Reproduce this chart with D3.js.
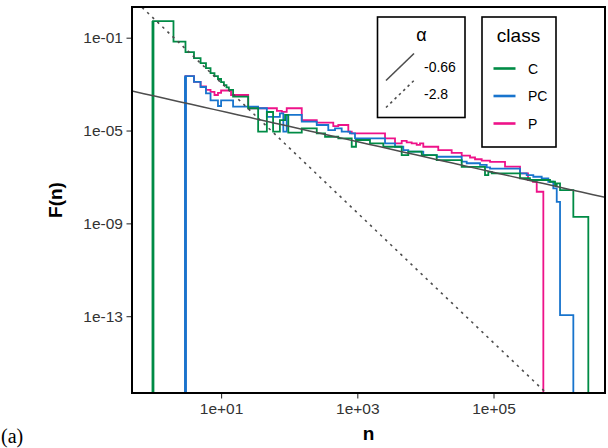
<!DOCTYPE html>
<html>
<head>
<meta charset="utf-8">
<script src="https://cdn.jsdelivr.net/npm/d3@7"></script>
<style>
  html, body { margin: 0; padding: 0; background: #fff; }
  svg text { font-family: "Liberation Sans", Arial, Helvetica, sans-serif; }
</style>
</head>
<body>
<svg id="chart" width="608" height="448"></svg>
<script>
// Size distribution F(n) per class, step curves on log-log axes
const classes = ["C", "PC", "P"];
const classColors = ["#008B45", "#1874CD", "#EE1289"];

// Class C
const nC = [1, 2, 3, 4, 5, 6, 7, 8, 9, 10, 11, 12, 13, 15, 25, 35, 47, 58, 73, 87, 97,
  153, 254, 336, 526, 828, 957, 1535, 2409, 4487, 5610, 8830, 14660, 34130, 75000, 83900,
  94200, 245000, 343000, 676000, 800000, 848000, 948000, 1486000];
const fC = [5.2e-1, 6.8e-2, 2.4e-2, 1.33e-2, 8.1e-3, 4.9e-3, 3.0e-3, 2.2e-3, 1.66e-3, 1.23e-3,
  9.1e-4, 7.2e-4, 5.6e-4, 2.9e-4, 9.1e-5, 8.9e-6, 6.3e-5, 8.9e-6, 2.8e-5, 4.7e-5, 8.1e-6,
  1.23e-5, 7.6e-6, 5.4e-6, 4.6e-6, 2.0e-6, 3.9e-6, 2.8e-6, 2.0e-6, 8.7e-7, 1.23e-6, 8.7e-7,
  5.3e-7, 2.7e-7, 1.2e-7, 1.66e-7, 1.43e-7, 8.8e-8, 7.4e-8, 6.2e-8, 4.5e-8, 5.3e-8, 2.7e-8, 1.9e-9];

// Class PC
const nPC = [3, 4, 5, 6, 7, 9, 10, 15, 35, 47, 73, 82, 92, 153, 254, 375, 471, 590, 781, 925,
  2553, 3580, 4735, 5610, 9310, 14660, 34130, 40400, 63400, 79400, 88900, 245000, 307000,
  384000, 510000, 638000, 755000, 848000, 948000];
const fPC = [2.2e-3, 1.26e-3, 7.5e-4, 4.0e-4, 2.0e-4, 1.14e-4, 2.0e-4, 1.07e-4, 9.1e-5, 3.9e-5,
  5.5e-5, 8.9e-6, 4.7e-5, 2.4e-5, 1.73e-5, 1.05e-5, 1.23e-5, 8.9e-6, 7.6e-6, 4.6e-6, 2.8e-6,
  2.0e-6, 1.44e-6, 1.23e-6, 8.7e-7, 7.4e-7, 4.6e-7, 3.9e-7, 3.3e-7, 2.6e-7, 2.3e-7, 1.43e-7,
  1.2e-7, 1.02e-7, 8.7e-8, 6.2e-8, 3.2e-8, 8.5e-9, 1.12e-13];

// Class P
const nP = [3, 4, 5, 6, 7, 8, 9, 10, 14, 25, 66, 78, 92, 153, 254, 444, 526, 738, 828, 2553,
  3580, 4487, 5310, 6290, 7450, 8330, 9310, 15450, 24300, 34130, 45200, 53500, 67100, 88900,
  147600, 245000, 321000, 380000, 431000];
const fP = [2.2e-3, 1.26e-3, 7.9e-4, 5.6e-4, 4.6e-4, 3.4e-4, 4.2e-4, 5.3e-4, 3.4e-4, 9.1e-5,
  7.1e-5, 6.4e-5, 9.1e-5, 2.8e-5, 2.2e-5, 1.55e-5, 1.73e-5, 8.9e-6, 7.6e-6, 4.6e-6, 2.8e-6,
  3.6e-6, 3.1e-6, 2.8e-6, 2.4e-6, 2.8e-6, 2.0e-6, 1.44e-6, 1.10e-6, 8.3e-7, 6.9e-7, 5.8e-7,
  5.0e-7, 4.5e-7, 2.8e-7, 1.43e-7, 7.4e-8, 6.2e-8, 2.3e-8];

// largest observed n per class (the curve drops to zero just after)
const nMax = [2466000, 1486000, 539000];

// fitted power laws F(n) = A * n^alpha
const alphaLabels = ["-0.66", "-2.8"];
const alphas = [-0.66, -2.8];
const fitA = [3.16e-4, 0.72];

const xTicks = [1e1, 1e3, 1e5];
const yTicks = [1e-1, 1e-5, 1e-9, 1e-13];

// ---------------------------------------------------------------
const svg = d3.select("#chart");
const panel = { left: 132, top: 7, right: 605, bottom: 393 };

const x = d3.scaleLog().domain([Math.pow(10, -0.308), Math.pow(10, 6.637)])
  .range([panel.left, panel.right]);
const y = d3.scaleLog().domain([Math.pow(10, -16.31), Math.pow(10, 0.323)])
  .range([panel.bottom, panel.top]);

const expFmt = v => {
  const e = Math.round(Math.log10(v));
  const a = Math.abs(e);
  return "1e" + (e < 0 ? "-" : "+") + (a < 10 ? "0" + a : "" + a);
};

svg.append("rect").attr("width", 608).attr("height", 448).attr("fill", "#fff");

svg.append("defs").append("clipPath").attr("id", "clip")
  .append("rect")
  .attr("x", panel.left).attr("y", panel.top)
  .attr("width", panel.right - panel.left).attr("height", panel.bottom - panel.top);

const plot = svg.append("g").attr("clip-path", "url(#clip)");

const floorF = y.domain()[0] / 100;
const series = [
  { n: nC, f: fC },
  { n: nPC, f: fPC },
  { n: nP, f: fP }
];

const stepLine = d3.line().x(d => x(d[0])).y(d => y(d[1])).curve(d3.curveStepAfter);

// draw P first, then PC, then C
[2, 1, 0].forEach(i => {
  const s = series[i];
  const pts = [[s.n[0], floorF]];
  s.n.forEach((v, j) => pts.push([v, s.f[j]]));
  pts.push([nMax[i], s.f[s.f.length - 1]]);
  pts.push([nMax[i], floorF]);
  plot.append("path")
    .attr("d", stepLine(pts))
    .attr("fill", "none")
    .attr("stroke", classColors[i])
    .attr("stroke-width", 1.8)
    .attr("stroke-linejoin", "miter");
});

// heavier rises at the smallest sizes
[0, 1].forEach(i => {
  const s = series[i];
  plot.append("line")
    .attr("x1", x(s.n[0])).attr("x2", x(s.n[0]))
    .attr("y1", y(floorF)).attr("y2", y(s.f[0]))
    .attr("stroke", classColors[i]).attr("stroke-width", 2.8);
});

// fitted power laws
const fitLine = d3.line().x(d => x(d[0])).y(d => y(d[1]));
const nRange = x.domain();
[0, 1].forEach(k => {
  const pts = d3.range(0, 41).map(t => {
    const n = Math.pow(10, Math.log10(nRange[0]) + t / 40 * (Math.log10(nRange[1]) - Math.log10(nRange[0])));
    return [n, fitA[k] * Math.pow(n, alphas[k])];
  });
  plot.append("path")
    .attr("d", fitLine(pts))
    .attr("fill", "none")
    .attr("stroke", "#4d4d4d")
    .attr("stroke-width", k === 1 ? 1.6 : 1.5)
    .attr("stroke-dasharray", k === 1 ? "2.5,4.5" : null);
});

// panel border
svg.append("rect")
  .attr("x", panel.left).attr("y", panel.top)
  .attr("width", panel.right - panel.left).attr("height", panel.bottom - panel.top)
  .attr("fill", "none").attr("stroke", "#000").attr("stroke-width", 2);

// axes
const yAxis = svg.append("g").attr("transform", `translate(${panel.left - 1},0)`)
  .call(d3.axisLeft(y).tickValues(yTicks).tickFormat(expFmt).tickSize(4.5).tickPadding(3.5));
const xAxis = svg.append("g").attr("transform", `translate(0,${panel.bottom + 1})`)
  .call(d3.axisBottom(x).tickValues(xTicks).tickFormat(expFmt).tickSize(4.5).tickPadding(4));
[yAxis, xAxis].forEach(g => {
  g.select(".domain").remove();
  g.selectAll(".tick line").attr("stroke", "#333").attr("stroke-width", 1.1);
  g.selectAll(".tick text").attr("fill", "#333")
    .style("font-size", "15.5px").style("font-family", "Liberation Sans, Arial, sans-serif");
});

svg.append("text")
  .attr("x", (panel.left + panel.right) / 2).attr("y", 440)
  .attr("text-anchor", "middle").attr("font-weight", "bold").attr("font-size", 19)
  .text("n");
svg.append("text")
  .attr("transform", `translate(62,${(panel.top + panel.bottom) / 2}) rotate(-90)`)
  .attr("text-anchor", "middle").attr("font-weight", "bold").attr("font-size", 19)
  .text("F(n)");

// panel tag
svg.append("text")
  .attr("x", 1).attr("y", 443)
  .attr("font-size", 20)
  .style("font-family", "'Liberation Serif', 'DejaVu Serif', serif")
  .text("(a)");

// legend: fitted exponent
const lgA = svg.append("g");
lgA.append("rect").attr("x", 377.5).attr("y", 17).attr("width", 87.5).attr("height", 100.5)
  .attr("fill", "#fff").attr("stroke", "#000").attr("stroke-width", 1.6);
lgA.append("text").attr("x", 421.5).attr("y", 41).attr("text-anchor", "middle")
  .attr("font-size", 18).text("α");
alphaLabels.forEach((lab, k) => {
  const cy = 67 + k * 27;
  lgA.append("line")
    .attr("x1", 386).attr("y1", cy + 13.5).attr("x2", 414).attr("y2", cy - 13.5)
    .attr("stroke", "#4d4d4d").attr("stroke-width", 1.6)
    .attr("stroke-dasharray", k === 1 ? "2.5,3.5" : null);
  lgA.append("text").attr("x", 424).attr("y", cy + 5).attr("font-size", 14).text(lab);
});

// legend: class
const lgC = svg.append("g");
lgC.append("rect").attr("x", 482).attr("y", 17).attr("width", 74).attr("height", 130)
  .attr("fill", "#fff").attr("stroke", "#000").attr("stroke-width", 1.6);
lgC.append("text").attr("x", 518.5).attr("y", 42).attr("text-anchor", "middle")
  .attr("font-size", 19).text("class");
classes.forEach((c, i) => {
  const cy = 68.5 + i * 27.5;
  lgC.append("line").attr("x1", 493.5).attr("x2", 515.5).attr("y1", cy).attr("y2", cy)
    .attr("stroke", classColors[i]).attr("stroke-width", 2.6);
  lgC.append("text").attr("x", 528).attr("y", cy + 5).attr("font-size", 14).text(c);
});
</script>
</body>
</html>
